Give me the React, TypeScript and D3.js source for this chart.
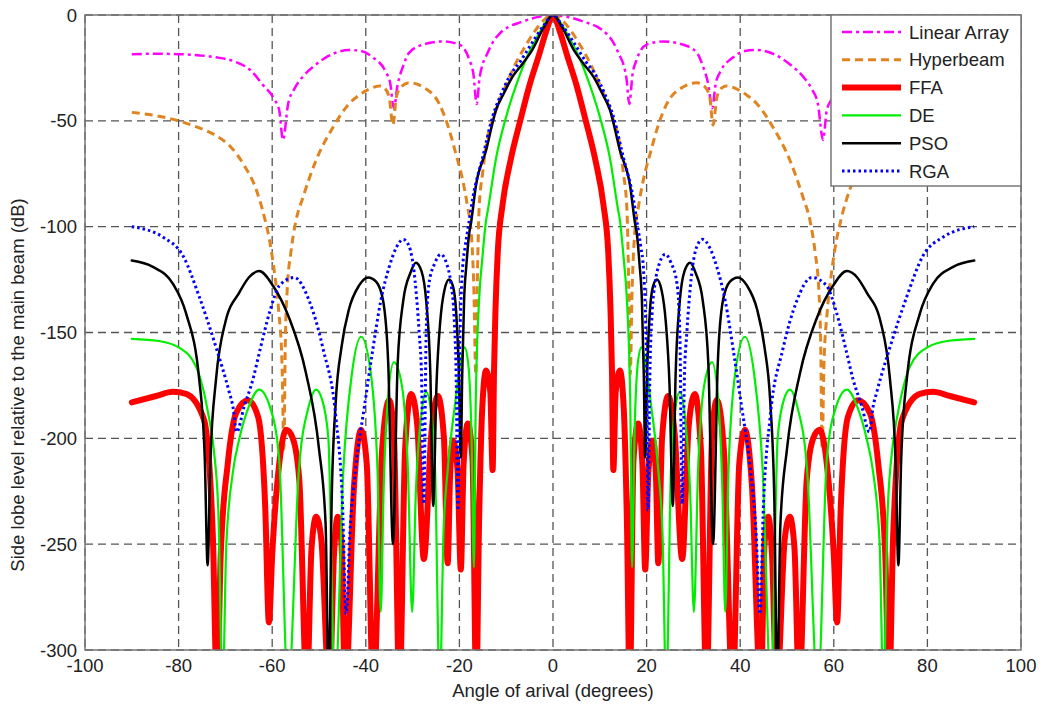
import React from 'react';
import * as d3 from 'd3';

// Angles (deg, right half; pattern is symmetric) and levels (dB)
const LINEAR_ANG = [0, 2, 4.3, 7, 9.4, 11.5, 12.9, 14.2, 15, 15.7, 16.3, 17, 17.9, 20, 23.5, 27.8, 30.8, 32, 33.2, 34, 34.8, 35.7, 38.5, 41, 43.6, 46, 48.5, 51, 53.4, 55.3, 56.6, 57.7, 58.5, 59.5, 62, 64.7, 68, 72, 76, 80, 85, 90];
const LINEAR_DB = [0, -0.5, -1.5, -3.5, -5.5, -9, -13, -19, -23, -30, -42, -28, -21, -14, -12.5, -14, -18, -24, -33, -44, -32, -27, -20, -17, -16.5, -17.5, -20, -24, -29, -35, -42, -59, -45, -40, -33, -26, -22, -20, -19, -18.5, -18.3, -18.5];

const HYPER_ANG = [0, 2, 4, 6, 8, 10, 12.5, 14.3, 15, 15.8, 16.2, 16.5, 16.9, 17.4, 18.3, 19.3, 20.7, 22.5, 24.3, 27.8, 30.7, 32.5, 33.5, 34.2, 35, 36, 37, 39.3, 41.5, 43.6, 47, 50.6, 53.4, 55, 56, 56.8, 57.2, 57.5, 57.9, 58.6, 59.5, 60.6, 61.5, 63.5, 66, 69, 72, 76, 80, 85, 90];
const HYPER_DB = [0, -2.5, -8, -15, -23, -33, -47, -62, -74, -92, -130, -170, -130, -105, -90, -78, -66, -52, -42, -34, -32, -34, -39, -52, -39, -34.5, -33.5, -35, -38, -42, -53, -68.5, -86, -98, -112, -130, -155, -205, -165, -140, -122, -106, -97, -82, -71, -62, -57, -53, -50, -47.5, -46];

const FFA_ANG = [0, 1.5, 3, 5, 7, 9, 10.8, 11.8, 12.3, 12.6, 12.9, 13.4, 14.3, 15.1, 15.8, 16.4, 17.2, 18.2, 19.1, 19.7, 20.4, 21.4, 22, 22.5, 23.3, 24.6, 26, 27.6, 29, 30.3, 31.6, 32.8, 34, 35, 36.5, 38.4, 39.8, 41, 42.5, 44.4, 45.2, 46, 46.8, 47.8, 49.5, 50.6, 51.6, 52.6, 54.2, 55.6, 57, 58.5, 60, 60.7, 61.5, 63, 65.2, 67.7, 69.5, 71, 71.8, 72.7, 74.6, 78.4, 81.2, 84.8, 90];
const FFA_DB = [0, -8, -19, -33, -50, -68, -90, -112, -140, -168, -215, -178, -168, -185, -240, -320, -210, -193, -212, -262, -215, -201, -218, -259, -200, -180, -198, -257, -194, -179, -205, -320, -198, -182, -205, -320, -212, -196, -222, -320, -250, -237, -255, -320, -248, -237, -252, -320, -220, -200, -196, -212, -255, -287, -232, -190, -182, -188, -212, -255, -320, -245, -191, -179, -178, -180, -183];

const DE_ANG = [0, 2, 4, 5.8, 7.2, 10, 12.2, 13.9, 14.3, 15.1, 15.8, 16.5, 16.9, 17.4, 18.1, 18.9, 19.8, 21, 22.5, 23.4, 24.2, 25.2, 26.2, 27.1, 28.2, 29.3, 30.1, 31, 32.3, 34, 35.4, 36.2, 36.8, 37.5, 39, 41, 43, 44.8, 46.6, 48, 49.3, 50.6, 52.2, 54.3, 56.6, 58.5, 60.5, 62.8, 65, 67, 68.4, 69.8, 70.6, 71.5, 72.5, 73.7, 76.3, 80, 84.2, 90];
const DE_DB = [0, -5, -13, -21, -29, -48, -68, -92, -97, -115, -135, -182, -261, -200, -165, -157, -165, -185, -215, -245, -320, -215, -185, -178, -190, -225, -282, -215, -175, -164, -185, -225, -282, -215, -168, -152, -170, -215, -320, -200, -182, -177, -185, -215, -320, -210, -185, -177, -185, -200, -216, -250, -320, -235, -205, -188, -166, -157, -154, -153];

const PSO_ANG = [0, 2, 4.3, 6.5, 8.6, 10.5, 12.2, 14.3, 16.5, 17.5, 17.9, 18.5, 19, 19.4, 19.7, 20.1, 20.7, 21.4, 22.2, 23.2, 24.1, 24.9, 25.6, 26.2, 27.1, 28.1, 29.3, 30.5, 32, 33.2, 34.2, 35.2, 36.3, 37.8, 39.5, 41.5, 43.6, 45.2, 46.4, 47.3, 47.9, 48.6, 50, 52.8, 56.4, 59.8, 62.8, 65, 67, 70, 72, 73.2, 73.8, 74.4, 75.6, 78.4, 81.2, 85.5, 90];
const PSO_DB = [0, -6, -16, -23, -29, -37, -45, -64, -81, -98, -103, -118, -135, -170, -209, -170, -140, -128, -125, -130, -145, -175, -232, -170, -135, -121, -117, -122, -135, -165, -250, -165, -135, -126, -124, -128, -139, -157, -182, -230, -320, -240, -205, -169, -143, -128, -121, -124, -131, -145, -172, -210, -260, -210, -172, -141, -127, -119, -116];

const RGA_ANG = [0, 2, 5, 7, 9.3, 11, 12.9, 15, 17.1, 18.1, 18.8, 19.3, 19.8, 20, 20.3, 20.7, 21.2, 21.8, 22.8, 24, 25.2, 26.5, 27.1, 27.6, 28.1, 28.6, 29.5, 30.8, 32, 33.5, 35, 36.8, 38.5, 40.3, 42.1, 43.4, 44.2, 45, 46.4, 49.1, 52.1, 55.3, 58.5, 60.5, 62.8, 64.1, 66, 67.6, 68.4, 69.2, 72, 75.6, 79, 83.3, 90];
const RGA_DB = [0, -5, -15, -22, -29, -37, -48, -67, -86, -100, -110, -119, -145, -166, -234, -170, -140, -127, -117, -113, -117, -127, -150, -231, -170, -150, -125, -109, -106, -110, -119, -135, -158, -185, -213, -245, -283, -230, -190, -158, -135, -124, -128, -140, -160, -172, -185, -197, -185, -178, -157, -133, -114, -105, -100];

const X_TICKS = [-100, -80, -60, -40, -20, 0, 20, 40, 60, 80, 100];
const Y_TICKS = [0, -50, -100, -150, -200, -250, -300];
const SERIES_NAMES = ['Linear Array', 'Hyperbeam', 'FFA', 'DE', 'PSO', 'RGA'];

type Style = { color: string; width: number; dash: string | undefined; cap: 'butt' | 'round' };
const STYLES: Style[] = [
  { color: '#ff00ff', width: 2.5, dash: '10,4,3,4', cap: 'butt' },
  { color: '#df8420', width: 3, dash: '8,5', cap: 'butt' },
  { color: '#ff0000', width: 6, dash: undefined, cap: 'round' },
  { color: '#00ee00', width: 2.2, dash: undefined, cap: 'round' },
  { color: '#000000', width: 2.5, dash: undefined, cap: 'round' },
  { color: '#0000ff', width: 3, dash: '2.5,3', cap: 'butt' },
];

function mirror(ang: number[], db: number[]): [number, number][] {
  const pts: [number, number][] = [];
  for (let i = ang.length - 1; i >= 1; i--) pts.push([-ang[i], db[i]]);
  for (let i = 0; i < ang.length; i++) pts.push([ang[i], db[i]]);
  return pts;
}

const SERIES = [
  mirror(LINEAR_ANG, LINEAR_DB),
  mirror(HYPER_ANG, HYPER_DB),
  mirror(FFA_ANG, FFA_DB),
  mirror(DE_ANG, DE_DB),
  mirror(PSO_ANG, PSO_DB),
  mirror(RGA_ANG, RGA_DB),
];

const L = 85, R = 1021, T = 15, B = 650;
const FONT = '"Liberation Sans", Arial, sans-serif';
const FS = 18.5;

export default function App() {
  const x = d3.scaleLinear().domain([-100, 100]).range([L, R]);
  const y = d3.scaleLinear().domain([-300, 0]).range([B, T]);
  const line = d3.line<[number, number]>().x(d => x(d[0])).y(d => y(d[1])).curve(d3.curveMonotoneX);

  const legX = 831, legY = 15, legW = 190, legH = 171;
  return (
    <svg width={1040} height={704} style={{ position: 'absolute', left: 0, top: 0, background: '#fff' }}>
      <rect x={0} y={0} width={1040} height={704} fill="#fff" />
      <defs>
        <clipPath id="plotclip"><rect x={L} y={T} width={R - L} height={B - T} /></clipPath>
      </defs>
      {/* grid */}
      {X_TICKS.map(t => (
        <line key={'gx' + t} x1={x(t)} x2={x(t)} y1={T} y2={B} stroke="#555" strokeWidth={1.3} strokeDasharray="8,5" />
      ))}
      {Y_TICKS.map(t => (
        <line key={'gy' + t} x1={L} x2={R} y1={y(t)} y2={y(t)} stroke="#555" strokeWidth={1.3} strokeDasharray="8,5" />
      ))}
      {/* curves */}
      <g clipPath="url(#plotclip)">
        {SERIES.map((s, i) => (
          <path key={i} d={line(s) || ''} fill="none" stroke={STYLES[i].color} strokeWidth={STYLES[i].width}
            strokeDasharray={STYLES[i].dash} strokeLinejoin="round" strokeLinecap={STYLES[i].cap} />
        ))}
      </g>
      {/* box */}
      <rect x={L} y={T} width={R - L} height={B - T} fill="none" stroke="#777" strokeWidth={1.5} />
      {/* ticks */}
      {X_TICKS.map(t => (
        <text key={'tx' + t} x={x(t)} y={B + 22} textAnchor="middle" fontFamily={FONT} fontSize={FS} fill="#222">{t}</text>
      ))}
      {Y_TICKS.map(t => (
        <text key={'ty' + t} x={L - 8} y={y(t) + 6.5} textAnchor="end" fontFamily={FONT} fontSize={FS} fill="#222">{t}</text>
      ))}
      <text x={(L + R) / 2} y={697} textAnchor="middle" fontFamily={FONT} fontSize={FS} fill="#222">Angle of arival (degrees)</text>
      <text transform={`translate(24,385) rotate(-90)`} textAnchor="middle" fontFamily={FONT} fontSize={FS} fill="#222">Side lobe level relative to the main beam (dB)</text>
      {/* legend */}
      <rect x={legX} y={legY} width={legW} height={legH} fill="#fff" stroke="#777" strokeWidth={1.5} />
      {SERIES_NAMES.map((n, i) => {
        const yy = legY + 17 + i * 27.8;
        return (
          <g key={n}>
            <line x1={842} x2={901} y1={yy} y2={yy} stroke={STYLES[i].color} strokeWidth={STYLES[i].width}
              strokeDasharray={STYLES[i].dash} />
            <text x={909} y={yy + 6.5} fontFamily={FONT} fontSize={FS} fill="#222">{n}</text>
          </g>
        );
      })}
    </svg>
  );
}
